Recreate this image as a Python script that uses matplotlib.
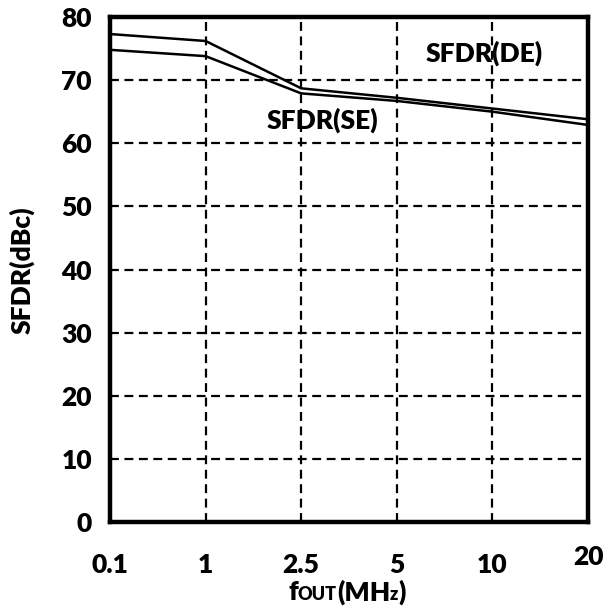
import matplotlib
matplotlib.use("Agg")
import matplotlib.pyplot as plt
from matplotlib.transforms import ScaledTranslation
from matplotlib.offsetbox import TextArea, HPacker, AnchoredOffsetbox

plt.rcParams['font.family'] = ['Lato', 'DejaVu Sans']
W = 'heavy'
FS = 19

freq_labels = ["0.1", "1", "2.5", "5", "10", "20"]
sfdr_de = [77.3, 76.2, 68.7, 67.2, 65.5, 63.8]
sfdr_se = [74.8, 73.8, 67.9, 66.7, 65.0, 62.9]
y_ticks = [0, 10, 20, 30, 40, 50, 60, 70, 80]

fig = plt.figure(figsize=(6.04, 6.12), dpi=100)
ax = fig.add_axes([110/604, 1-522/612, (588-110)/604, (522-17)/612])

x = list(range(len(freq_labels)))
ax.plot(x, sfdr_de, color='black', lw=1.8)
ax.plot(x, sfdr_se, color='black', lw=1.8)

ax.set_xlim(0, len(freq_labels)-1)
ax.set_ylim(0, 80)
ax.set_xticks(x)
ax.set_xticklabels(freq_labels, fontsize=FS, fontweight=W)
ax.set_yticks(y_ticks)
ax.set_yticklabels([str(v) for v in y_ticks], fontsize=FS, fontweight=W)
ax.tick_params(length=0)
ax.tick_params(axis='y', pad=13)
ax.tick_params(axis='x', pad=22)
lab = ax.get_xticklabels()[-1]
lab.set_transform(lab.get_transform() + ScaledTranslation(0, 5.5/72, fig.dpi_scale_trans))

ax.grid(True, color='black', lw=1.6, linestyle=(0, (4, 2.5)))
for s in ax.spines.values():
    s.set_linewidth(3.2)
    s.set_color('black')

ax.text(3.91, 73.0, "SFDR(DE)", fontsize=FS, fontweight=W, ha='center', va='baseline')
ax.text(2.22, 62.4, "SFDR(SE)", fontsize=FS, fontweight=W, ha='center', va='baseline')

fig.text(22/604, 1-270/612, "SFDR(dBc)", rotation=90, fontsize=FS, fontweight=W,
         ha='center', va='center')

parts = [TextArea("f", textprops=dict(fontsize=FS, fontweight=W)),
         TextArea("OUT", textprops=dict(fontsize=13, fontweight=W)),
         TextArea("(MH", textprops=dict(fontsize=FS, fontweight=W)),
         TextArea("z", textprops=dict(fontsize=13, fontweight=W)),
         TextArea(")", textprops=dict(fontsize=FS, fontweight=W))]
box = HPacker(children=parts, align="baseline", pad=0, sep=0)
ab = AnchoredOffsetbox(loc='center', child=box, frameon=False,
                       bbox_to_anchor=(347/604, 1-592/612), bbox_transform=fig.transFigure, pad=0, borderpad=0)
fig.add_artist(ab)

fig.savefig("out.png", dpi=100)
